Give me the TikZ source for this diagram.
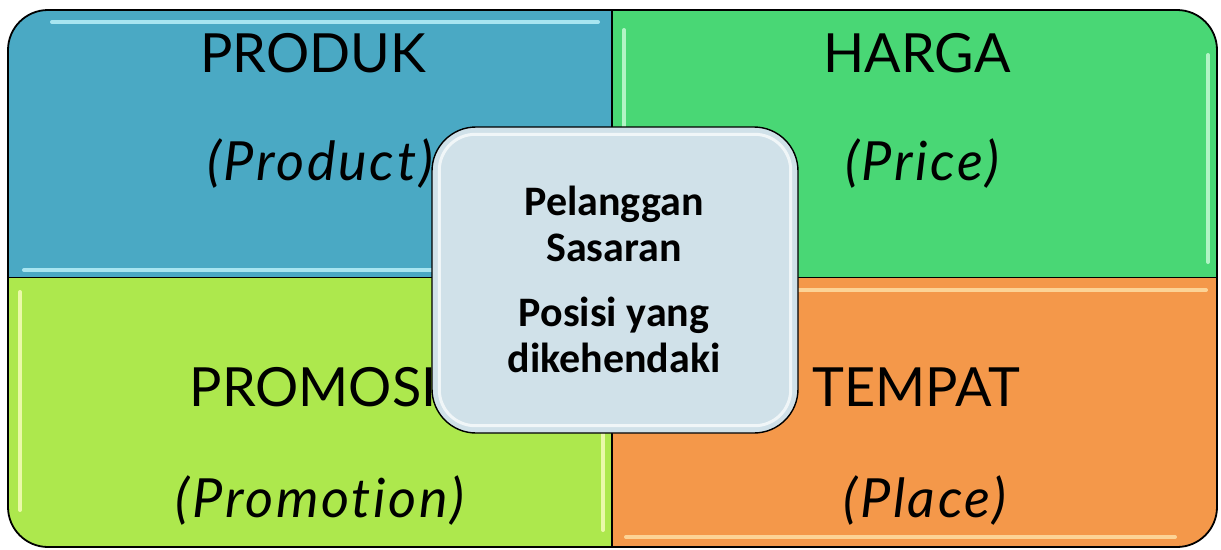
\documentclass[tikz,border=0pt]{standalone}
\usepackage{fontspec}
\setmainfont{Carlito}
\newfontfamily\qfont{Lato}[Ligatures=NoCommon]
\newfontfamily\qifont{Lato Italic}[Ligatures=NoCommon, LetterSpace=5]
\definecolor{cTL}{HTML}{4AA9C4}
\definecolor{cTR}{HTML}{49D775}
\definecolor{cBL}{HTML}{ADE84D}
\definecolor{cBR}{HTML}{F4984A}
\definecolor{cC}{HTML}{D0E1E9}
\definecolor{hTL}{HTML}{C8FAFF}
\definecolor{hTR}{HTML}{D6FFE0}
\definecolor{hBL}{HTML}{FFFFC8}
\definecolor{hBR}{HTML}{FFE8B0}
\tikzset{
  qlabel/.style={font=\qfont\fontsize{54}{60}\selectfont, anchor=base, inner sep=0pt},
  qitalic/.style={font=\qifont\fontsize{54}{60}\selectfont, anchor=base, inner sep=0pt},
  gloss/.style={line width=4pt, opacity=0.75, line cap=round},
  divider/.style={line width=1.6pt, black},
  centerbox/.style={draw=black, line width=1.4pt, fill=cC, rounded corners=44pt,
    minimum width=366pt, minimum height=306pt, inner sep=0pt}
}
\begin{document}
\begin{tikzpicture}[x=1pt,y=-1pt]
\useasboundingbox (0,0) rectangle (1221,549);
% quadrant fills
\begin{scope}
  \clip[rounded corners=40pt] (8,10) rectangle (1217,547);
  \fill[cTL] (8,10) rectangle (612,277.5);
  \fill[cTR] (612,10) rectangle (1217,277.5);
  \fill[cBL] (8,277.5) rectangle (612,547);
  \fill[cBR] (612,277.5) rectangle (1217,547);
  % glossy highlights
  \draw[gloss, hTL] (52,22) -- (598,22);
  \draw[gloss, hTL] (24,270) -- (604,270);
  \draw[gloss, hTR] (624,30) -- (624,262);
  \draw[gloss, hTR] (1208,55) -- (1208,262);
  \draw[gloss, hBL] (20,292) -- (20,510);
  \draw[gloss, hBL] (603,292) -- (603,530);
  \draw[gloss, hBR] (626,290) -- (1206,290);
  \draw[gloss, hBR] (626,537) -- (1175,537);
\end{scope}
% dividers and outer border
\draw[divider] (612,10) -- (612,547);
\draw[divider] (8,277.5) -- (1217,277.5);
\draw[line width=1.8pt, rounded corners=40pt] (8,10) rectangle (1217,547);
% quadrant labels
\node[qlabel] (produk) at (313,72) {PRODUK};
\node[qitalic] (product) at (320,180) {(Product)};
\node[qlabel] (harga) at (917,72) {HARGA};
\node[qitalic] (price) at (922,180) {(Price)};
\node[qlabel] (promosi) at (313,406) {PROMOSI};
\node[qitalic] (promotion) at (320,517) {(Promotion)};
\node[qlabel] (tempat) at (916,406) {TEMPAT};
\node[qitalic] (place) at (925,517) {(Place)};
% centre box
\node[centerbox] (centre) at (615,280) {};
\draw[white, line width=3pt, opacity=0.7, rounded corners=36pt]
  (centre.north west) ++(8,8) rectangle ([xshift=-8pt,yshift=8pt]centre.south east);
\node[font=\bfseries\fontsize{42}{46}\selectfont, align=center, inner sep=0pt] (ctext) at (614,279)
  {Pelanggan\\Sasaran\\[19pt]Posisi yang\\dikehendaki};
\end{tikzpicture}
\end{document}
